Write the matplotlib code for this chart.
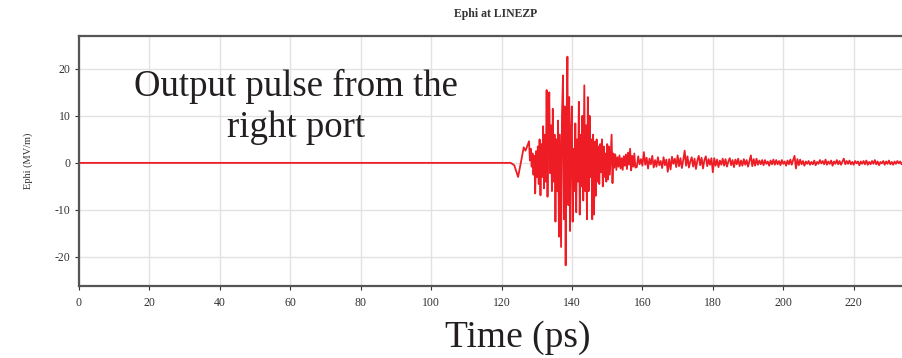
import numpy as np
import matplotlib
matplotlib.use('Agg')
from matplotlib import pyplot as plt

# Ephi field probe at LINEZP: time (ps) and field (MV/m)
burst_t = [0.0, 122.6, 123.6, 124.7, 125.6, 126.3, 126.8, 127.3, 127.8,
           128.05, 128.3, 128.55, 128.8, 129.05, 129.3, 129.55, 129.8,
           130.05, 130.3, 130.55, 130.8, 131.05, 131.3, 131.55, 131.8,
           132.05, 132.3, 132.55, 132.8, 133.05, 133.3, 133.55, 133.8,
           134.05, 134.3, 134.55, 134.8, 135.05, 135.3, 135.55, 135.8,
           136.05, 136.3, 136.55, 136.9, 137.15, 137.45, 137.7, 137.95,
           138.2, 138.45, 138.7, 138.95, 139.2, 139.45, 139.7, 139.95,
           140.2, 140.45, 140.7, 140.95, 141.2, 141.45, 141.7, 141.95,
           142.2, 142.45, 142.7, 142.95, 143.2, 143.5, 143.75, 144.0,
           144.25, 144.5, 144.75, 145.0, 145.25, 145.5, 145.75, 146.0,
           146.25, 146.5, 146.75, 147.0, 147.25, 147.5, 147.75, 148.0,
           148.25, 148.5, 148.75, 149.0, 149.25, 149.5, 149.75, 150.0,
           150.25, 150.5, 150.75, 151.0, 151.25, 151.5, 151.75, 152.0,
           152.3, 152.6, 152.9, 153.2, 153.5, 153.8, 154.1, 154.4,
           154.7, 155.0, 155.3, 155.6, 155.9, 156.2, 156.5, 156.8,
           157.1, 157.4, 157.7, 158.0]
burst_v = [0.0, 0.0, -0.5, -3.0, 0.5, 3.3, 2.6, 3.6, 4.6,
           0.5, 3.0, -0.8, 2.0, -2.5, 1.5, -6.5, 2.5,
           -3.0, 3.5, -4.5, 5.0, -6.9, 4.0, -3.0, 7.8,
           -5.4, 6.0, -4.0, 15.5, -7.2, 9.0, 15.0, -2.2,
           8.0, -6.0, 11.5, -4.0, 6.0, -12.5, 5.0, -6.0,
           9.0, -15.7, 6.0, -17.9, 10.0, 18.6, -12.0, 12.0,
           -21.8, 8.0, 22.6, -9.0, 14.0, -14.5, 6.0, 12.0,
           -12.5, 3.0, -6.0, 8.4, -10.5, 5.0, -4.0, 13.0,
           -11.0, 6.0, -5.0, 10.0, -8.0, 16.5, -6.0, 8.0,
           -12.0, 14.0, -6.0, 10.0, -3.0, 5.0, -12.0, 6.0,
           -11.0, 4.5, -7.0, 5.0, -4.0, 3.5, -4.5, 4.0,
           -2.0, 5.0, -5.0, 3.5, -3.0, 2.0, -4.0, 4.0,
           -3.5, 3.5, -2.5, 2.0, 6.0, -4.3, 2.0, -1.0,
           1.8, -1.5, 1.2, -0.8, 1.6, -1.2, 1.0, -1.5,
           1.4, -0.6, 1.8, -1.3, 2.2, -0.4, 3.0, -1.6,
           1.5, -0.8, 2.0, -1.0]

tail_t = [158.4, 158.8, 159.2, 159.6, 160.0, 160.4, 160.8, 161.2, 161.6, 162.0,
          162.4, 162.8, 163.2, 163.6, 164.0, 164.4, 164.8, 165.2, 165.6, 166.0,
          166.4, 166.8, 167.2, 167.6, 168.0, 168.4, 168.8, 169.2, 169.6, 170.0,
          170.4, 170.8, 171.2, 171.6, 172.0, 172.4, 172.8, 173.2, 173.6, 174.0,
          174.4, 174.8, 175.2, 175.6, 176.0, 176.4, 176.8, 177.2, 177.6, 178.0,
          178.4, 178.8, 179.2, 179.6, 180.0, 180.4, 180.8, 181.2, 181.6, 182.0,
          182.4, 182.8, 183.2, 183.6, 184.0, 184.4, 184.8, 185.2, 185.6, 186.0,
          186.4, 186.8, 187.2, 187.6, 188.0, 188.4, 188.8, 189.2, 189.6, 190.0,
          190.4, 190.8, 191.2, 191.6, 192.0, 192.4, 192.8, 193.2, 193.6, 194.0,
          194.4, 194.8, 195.2, 195.6, 196.0, 196.4, 196.8, 197.2, 197.6, 198.0,
          198.4, 198.8, 199.2, 199.6, 200.0, 200.4, 200.8, 201.2, 201.6, 202.0,
          202.4, 202.8, 203.2, 203.6, 204.0, 204.4, 204.8, 205.2, 205.6, 206.0,
          206.4, 206.8, 207.2, 207.6, 208.0, 208.4, 208.8, 209.2, 209.6, 210.0,
          210.4, 210.8, 211.2, 211.6, 212.0, 212.4, 212.8, 213.2, 213.6, 214.0,
          214.4, 214.8, 215.2, 215.6, 216.0, 216.4, 216.8, 217.2, 217.6, 218.0,
          218.4, 218.8, 219.2, 219.6, 220.0, 220.4, 220.8, 221.2, 221.6, 222.0,
          222.4, 222.8, 223.2, 223.6, 224.0, 224.4, 224.8, 225.2, 225.6, 226.0,
          226.4, 226.8, 227.2, 227.6, 228.0, 228.4, 228.8, 229.2, 229.6, 230.0,
          230.4, 230.8, 231.2, 231.6, 232.0, 232.4, 232.8, 233.2, 233.6, 234.0]
tail_v = [-0.9, 1.4, -0.3, 0.8, -0.6, 2.3, -0.4, 1.1, -1.2, 0.9,
          -0.3, 1.5, -1.0, 0.6, -0.8, 1.2, -0.5, 0.4, -1.1, 1.2,
          -0.5, 0.7, -1.9, 0.8, -1.4, 1.3, -0.2, 0.9, -0.9, 1.6,
          -0.7, 1.0, -1.1, 0.6, 2.6, -0.6, 1.4, -1.0, 0.3, 1.2,
          -0.8, 0.9, -1.3, 0.5, 1.5, -0.5, 1.1, -1.2, 0.6, 1.4,
          -0.7, 0.8, -0.4, 1.0, -2.0, 1.0, -0.6, 0.7, -0.9, 0.5,
          -0.4, 0.9, -0.6, 0.8, -0.8, 0.3, 1.0, -0.5, 0.6, -0.9,
          0.7, -0.3, 0.9, -0.7, 0.5, -0.6, 0.8, -0.4, 0.6, -0.8,
          0.4, 1.6, -0.7, 0.8, -0.6, 0.9, -0.4, 0.5, -0.3, 0.6,
          -0.5, 0.6, -0.2, 0.3, -0.6, 0.5, -0.3, 0.7, -0.4, 0.6,
          -0.3, 0.4, -0.5, 0.6, -0.2, 0.3, -0.6, 0.5, -0.3, 0.7,
          -0.4, 0.6, 1.5, -1.2, 0.8, -0.5, 0.7, -0.3, 0.4, -0.6,
          0.3, -0.2, 0.4, -0.4, 0.2, -0.3, 0.5, -0.5, 0.2, -0.2,
          0.6, -0.1, 0.4, -0.3, 0.7, -0.4, 0.3, -0.2, 0.5, -0.6,
          0.3, -0.2, 0.6, -0.3, 0.4, -0.4, 0.3, 0.9, -0.3, 0.4,
          -0.2, 0.5, -0.3, 0.2, -0.4, 0.4, -0.1, 0.3, -0.5, 0.3,
          -0.2, 0.4, -0.3, 0.5, -0.4, 0.2, -0.3, 0.4, -0.2, 0.6,
          -0.3, 0.3, -0.5, 0.2, -0.1, 0.4, -0.4, 0.3, -0.2, 0.5,
          -0.3, 0.2, -0.4, 0.3, -0.2, 0.4, -0.1, 0.3, -0.3, 0.2]

x_ticks = [0, 20, 40, 60, 80, 100, 120, 140, 160, 180, 200, 220]
y_ticks = [-20, -10, 0, 10, 20]

plt.rcParams['font.family'] = ['Liberation Serif', 'DejaVu Serif']
plt.rcParams['axes.unicode_minus'] = False

W, H = 903, 358
fig = plt.figure(figsize=(W / 100, H / 100), dpi=100)
ax = fig.add_axes([79 / W, 1 - 286 / H, 1 - 79 / W, (286 - 36) / H])

t = np.array(burst_t + tail_t)
v = np.array(burst_v + tail_v)
ax.plot(t, v, color='#ee1c25', linewidth=1.3)

ax.set_xlim(0, 234)
ax.set_ylim(-26.2, 27.0)
ax.set_xticks(x_ticks)
ax.set_yticks(y_ticks)
ax.grid(True, color='#e2e2e2', linewidth=1.0)
ax.set_axisbelow(True)
ax.tick_params(labelsize=8.5, colors='#333333', length=3, width=0.8, pad=3)
ax.tick_params(axis='x', pad=5)
for side in ['left', 'bottom', 'top']:
    ax.spines[side].set_color('#555555')
    ax.spines[side].set_linewidth(1.6)
ax.spines['right'].set_visible(False)

ax.set_ylabel('Ephi (MV/m)', fontsize=7.5, color='#333333', labelpad=16)

# title and annotations in figure pixels
fig.text(496 / W, 1 - 14 / H, 'Ephi at LINEZP', fontsize=8.5, fontweight='bold',
         color='#333333', ha='center', va='center')
fig.text(296 / W, 1 - 107 / H, 'Output pulse from the\nright port', fontsize=26.5,
         color='#231f20', ha='center', va='center', linespacing=1.25)
fig.text(518 / W, 1 - 338 / H, 'Time (ps)', fontsize=27, color='#231f20',
         ha='center', va='center')

fig.savefig('out.png', dpi=100)
